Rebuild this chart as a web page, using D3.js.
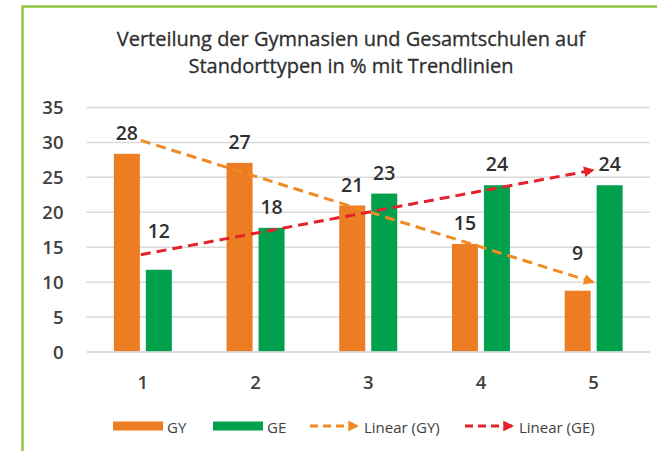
<!DOCTYPE html>
<html><head><meta charset="utf-8">
<script src="https://cdn.jsdelivr.net/npm/d3@7"></script>
<style>
html,body{margin:0;padding:0;background:#fff;}
svg{display:block;}
</style></head>
<body>
<svg id="chart" width="657" height="451"></svg>
<script>
const categories = ["1","2","3","4","5"];
const seriesNames = ["GY","GE"];
const gyValues = [28.3, 27.0, 20.9, 15.4, 8.7];
const geValues = [11.7, 17.7, 22.6, 23.8, 23.8];
const yTicks = [0,5,10,15,20,25,30,35];
const titleLines = ["Verteilung der Gymnasien und Gesamtschulen auf","Standorttypen in % mit Trendlinien"];
const legendLabels = ["GY","GE","Linear (GY)","Linear (GE)"];

(function(){
const colors = {GY:"#ED7D22", GE:"#00A04C", trendGY:"#F08A24", trendGE:"#E4222B"};
const font = "'Open Sans', sans-serif";

const svg = d3.select("#chart");

// frame
svg.append("path").attr("d","M22.5,700 V6.5 H700").attr("fill","none")
  .attr("stroke","#8DC63F").attr("stroke-width",2.5);

// title
svg.append("g").selectAll("text").data(titleLines).join("text")
  .attr("x",351).attr("y",(d,i)=>45.5+i*27.5)
  .attr("text-anchor","middle").attr("font-family",font).attr("font-size",20)
  .attr("fill","#2e2e2e").attr("stroke","#2e2e2e").attr("stroke-width",0.3).text(d=>d);

const pLeft=86.5, pRight=650, pTop=107, pBottom=351.5;
const x0 = d3.scaleBand().domain(categories).range([pLeft,pRight]).padding(0);
const x1 = d3.scaleBand().domain(seriesNames).range([0,x0.bandwidth()]).paddingInner(0.1875).paddingOuter(0.855);
const y = d3.scaleLinear().domain([0,35]).range([pBottom,pTop]);

// gridlines
const yAxis = d3.axisLeft(y).tickValues(yTicks).tickSize(-(pRight-pLeft)).tickPadding(23);
const gy = svg.append("g").attr("transform",`translate(${pLeft},0)`).call(yAxis);
gy.select(".domain").remove();
gy.selectAll(".tick line").attr("stroke","#D9D9D9").attr("stroke-width",1.5);
gy.selectAll(".tick text").attr("font-family",font).attr("font-size",18.5).attr("font-weight",600)
  .attr("fill","#404040").attr("dy","0.36em");

// bars
const data = categories.map((c,i)=>({cat:c, GY:gyValues[i], GE:geValues[i]}));
const groups = svg.append("g").selectAll("g").data(data).join("g")
  .attr("transform",d=>`translate(${x0(d.cat)},0)`);
groups.selectAll("rect").data(d=>seriesNames.map(k=>({key:k,value:d[k]}))).join("rect")
  .attr("x",d=>x1(d.key)).attr("width",x1.bandwidth())
  .attr("y",d=>y(d.value)).attr("height",d=>y(0)-y(d.value))
  .attr("fill",d=>colors[d.key]);

// x axis
const xAxis = d3.axisBottom(x0).tickSize(0).tickPadding(24);
const gx = svg.append("g").attr("transform",`translate(0,${pBottom})`).call(xAxis);
gx.select(".domain").attr("stroke","#D9D9D9").attr("stroke-width",1.5);
gx.selectAll(".tick text").attr("font-family",font).attr("font-size",18.5).attr("font-weight",600).attr("fill","#404040");

// trend lines (linear regression)
function regress(vals){
  const xs=vals.map((v,i)=>i+1);
  const mx=d3.mean(xs), my=d3.mean(vals);
  const b=d3.sum(xs.map((xv,i)=>(xv-mx)*(vals[i]-my)))/d3.sum(xs.map(xv=>(xv-mx)**2));
  const a=my-b*mx;
  return xv=>a+b*xv;
}
const defs = svg.append("defs");
function marker(id,color){
  defs.append("marker").attr("id",id).attr("viewBox","0 0 10 10").attr("refX",9).attr("refY",5)
    .attr("markerWidth",3.6).attr("markerHeight",3.6).attr("orient","auto").attr("markerUnits","strokeWidth")
    .append("path").attr("d","M0,0 L10,5 L0,10 Z").attr("fill",color);
}
marker("arrGY",colors.trendGY); marker("arrGE",colors.trendGE);
const cx = c=>x0(c)+x0.bandwidth()/2;
const line = d3.line().x(d=>d[0]).y(d=>d[1]);
[["GY",gyValues,"arrGY",colors.trendGY],["GE",geValues,"arrGE",colors.trendGE]].forEach(([k,vals,m,col])=>{
  const f=regress(vals);
  const first=categories[0], last=categories[categories.length-1];
  svg.append("path").attr("d",line([[cx(first)-2,y(f(1))],[cx(last),y(f(categories.length))]]))
    .attr("fill","none").attr("stroke",col).attr("stroke-width",3).attr("stroke-dasharray","10,6")
    .attr("marker-end",`url(#${m})`);
});

// data labels
const extraLift = {"GE-0":18, "GY-4":17};
const labels = [];
data.forEach((d,i)=>seriesNames.forEach(k=>labels.push({k,i,cat:d.cat,v:d[k]})));
svg.append("g").selectAll("text").data(labels).join("text")
  .attr("x",d=>x0(d.cat)+x1(d.k)+x1.bandwidth()/2)
  .attr("y",d=>y(d.v)-21-(extraLift[`${d.k}-${d.i}`]||0))
  .attr("dy","0.36em").attr("text-anchor","middle")
  .attr("font-family",font).attr("font-size",19.5).attr("font-weight",600).attr("fill","#303030")
  .text(d=>Math.round(d.v));

// legend
const lg = svg.append("g");
const ly = 426;
const items = [
  {x:113, type:"rect", color:colors.GY, label:legendLabels[0]},
  {x:213, type:"rect", color:colors.GE, label:legendLabels[1]},
  {x:310, type:"line", color:colors.trendGY, m:"arrGY", label:legendLabels[2]},
  {x:465, type:"line", color:colors.trendGE, m:"arrGE", label:legendLabels[3]}
];
items.forEach(it=>{
  if(it.type==="rect"){
    lg.append("rect").attr("x",it.x).attr("y",ly-4.5).attr("width",50).attr("height",9).attr("fill",it.color);
  } else {
    lg.append("path").attr("d",`M${it.x},${ly} H${it.x+48}`).attr("stroke",it.color).attr("stroke-width",3)
      .attr("stroke-dasharray","8,5").attr("marker-end",`url(#${it.m})`).attr("fill","none");
  }
  lg.append("text").attr("x",it.x+54).attr("y",ly+1.5).attr("dy","0.36em")
    .attr("font-family",font).attr("font-size",15).attr("fill","#404040").text(it.label);
});
})();
</script>
</body></html>
